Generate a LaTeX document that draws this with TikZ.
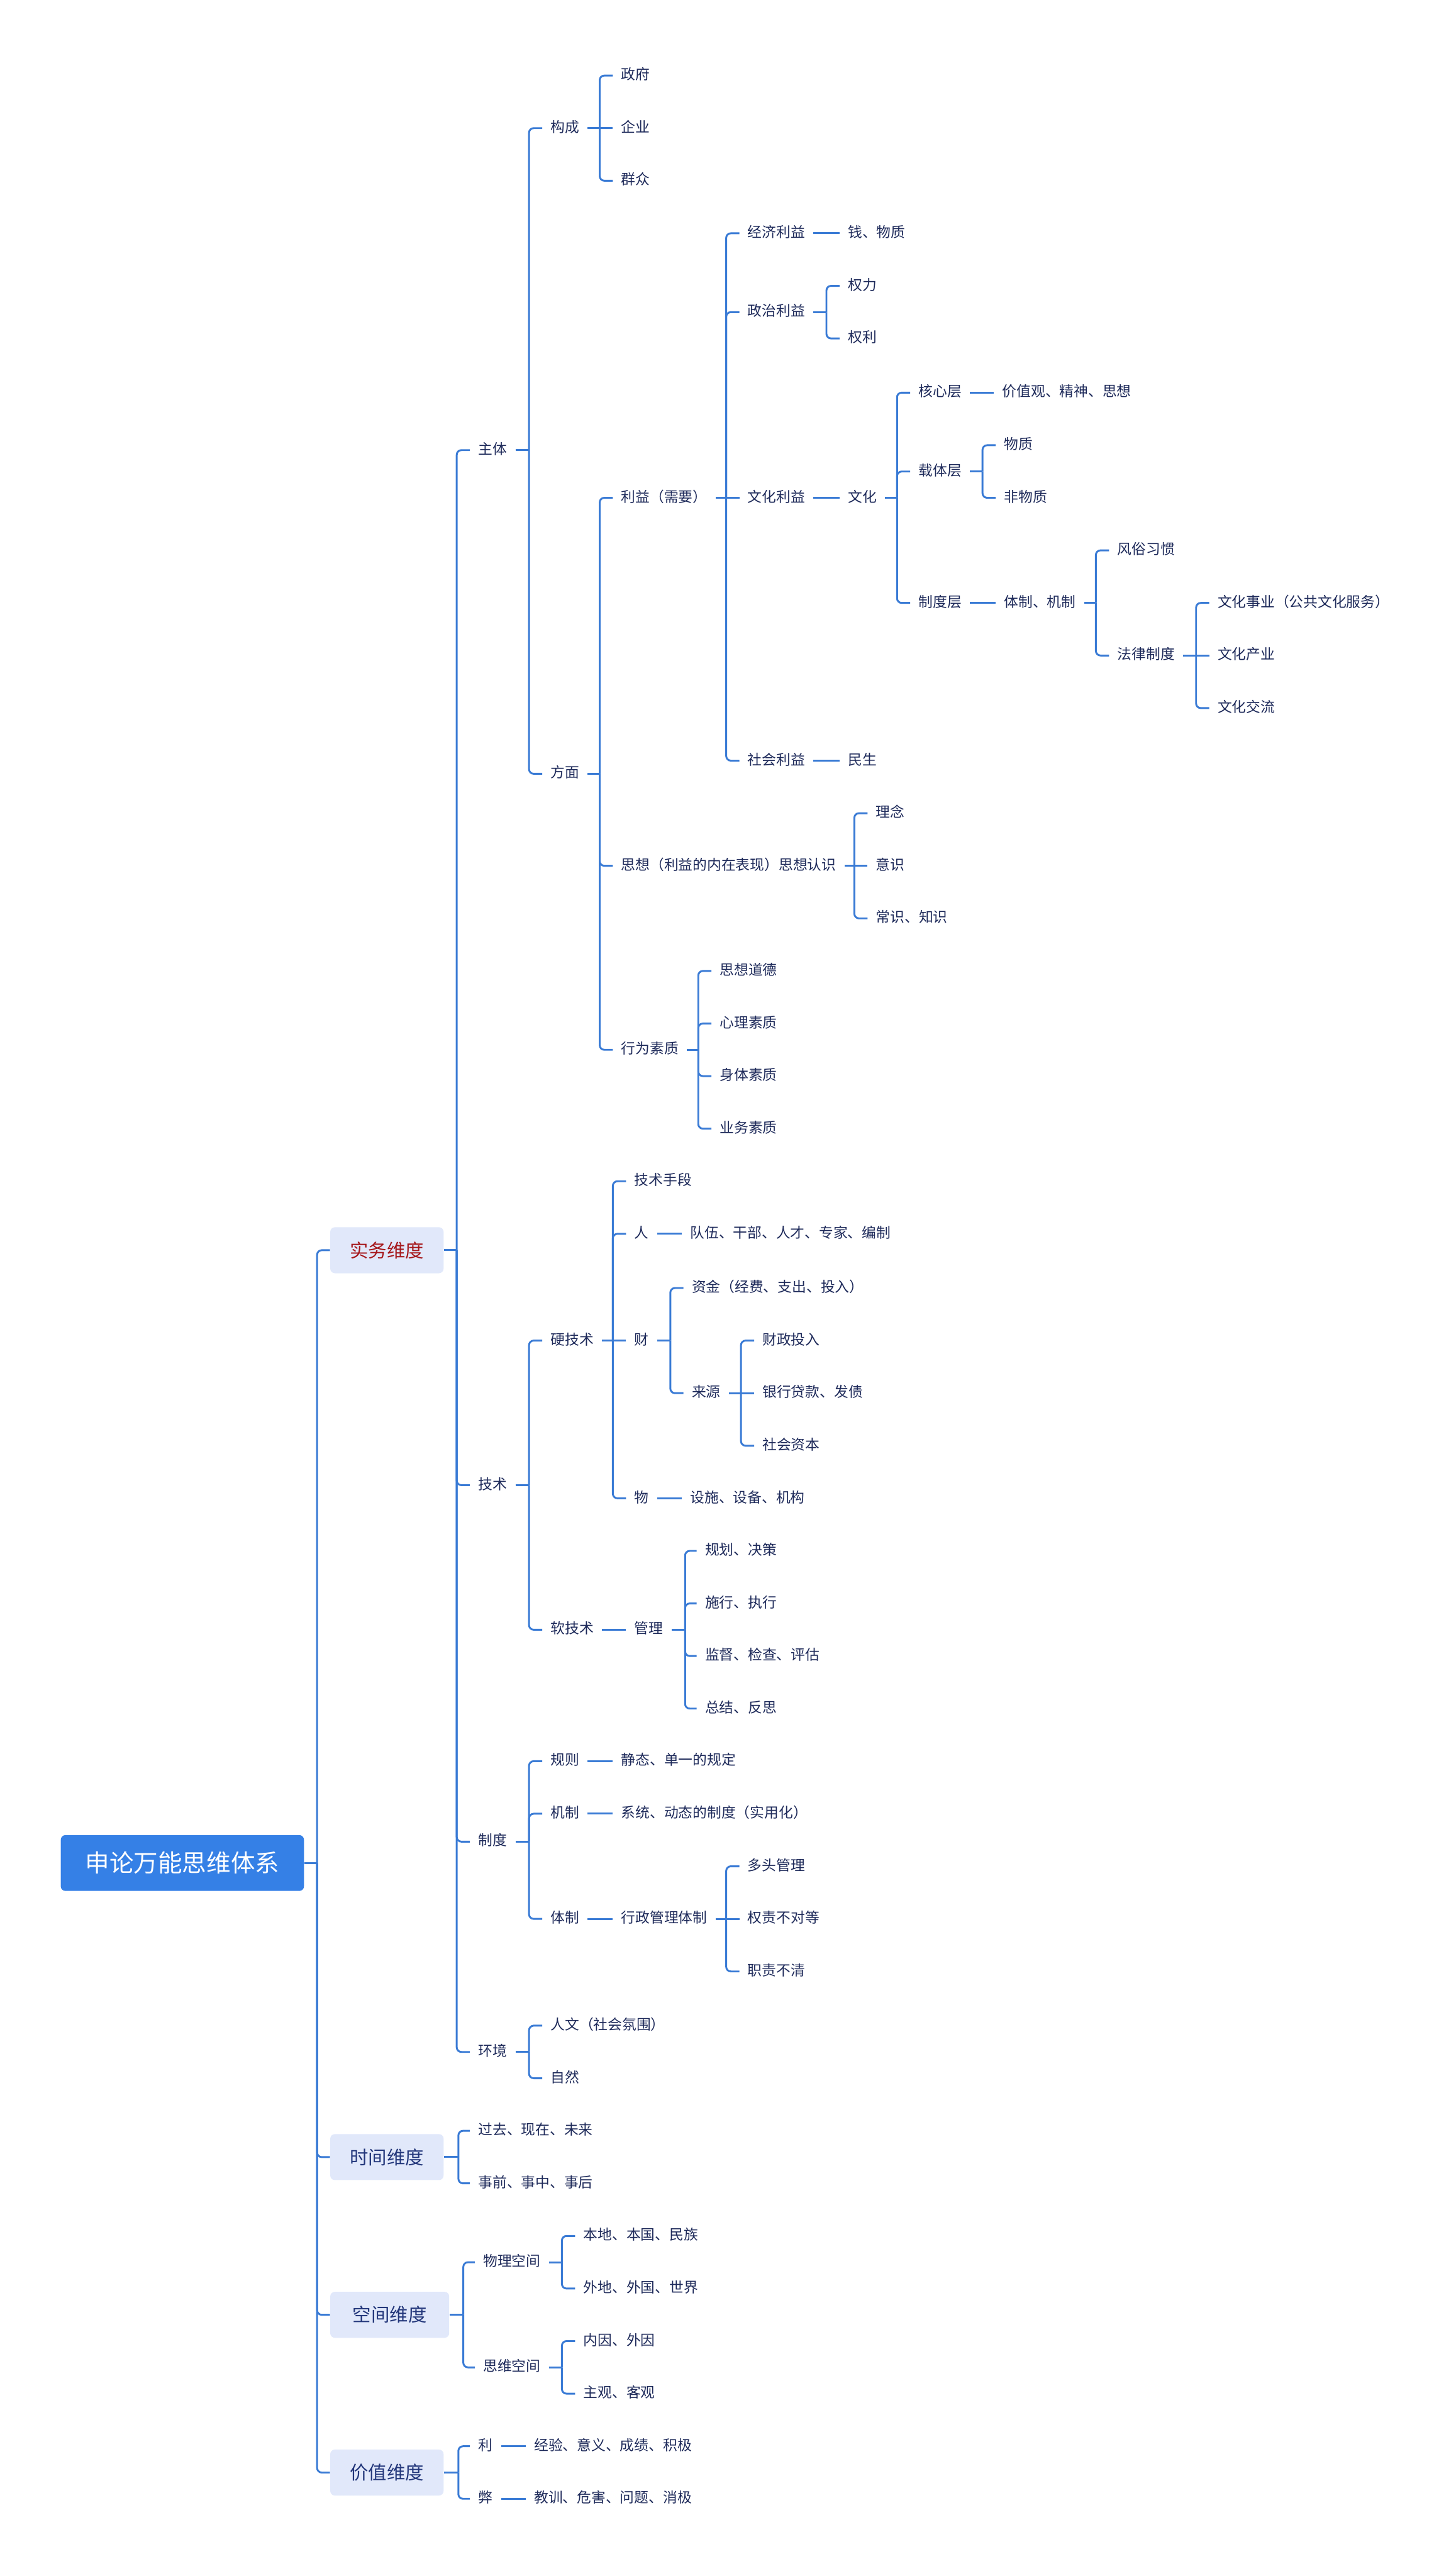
\documentclass[tikz,border=0pt]{standalone}
\usepackage{fontspec}
\setmainfont{Noto Sans CJK SC}
\definecolor{linkblue}{HTML}{3A7BD5}
\definecolor{inkblue}{HTML}{1E2A5A}
\definecolor{dimink}{HTML}{22367A}
\definecolor{rootblue}{HTML}{3580E6}
\definecolor{dimfill}{HTML}{E1E8FA}
\definecolor{dimred}{HTML}{A5161A}
\tikzset{
  leaf/.style={anchor=west, inner xsep=0.25cm, inner ysep=0pt, text=inkblue,
    font=\fontsize{12.4}{15}\selectfont, text height=0.86em, text depth=0.14em},
  rootbox/.style={fill=rootblue, rounded corners=4pt, text=white, inner sep=0pt,
    minimum width=7.4cm, minimum height=1.7cm, font=\fontsize{21}{25}\selectfont},
  dimbox/.style={fill=dimfill, rounded corners=4pt, text=dimink, inner sep=0pt,
    minimum width=3.45cm, minimum height=1.4cm, font=\fontsize{16}{19}\selectfont},
  link/.style={draw=linkblue, line width=1.6pt, rounded corners=4pt},
}
\begin{document}
\begin{tikzpicture}[x=0.05cm, y=-0.05cm]
  \useasboundingbox (0,0) rectangle (886,1568);
  % root and dimensions
  \node[rootbox] (root) at (111,1134) {申论万能思维体系};
  \node[dimbox, text=dimred] (shiwu) at (235.5,761) {实务维度};
  \node[dimbox] (shijian) at (235.5,1313) {时间维度};
  \node[dimbox, minimum width=3.62cm] (kongjian) at (237.2,1409) {空间维度};
  \node[dimbox] (jiazhi) at (235.5,1505) {价值维度};
  %
  \node[leaf] (zhuti) at (286,274) {主体};
  \node[leaf] (jishu) at (286,904) {技术};
  \node[leaf] (zhidu) at (286,1121) {制度};
  \node[leaf] (huanjing) at (286,1249) {环境};
  %
  \node[leaf] (goucheng) at (330,78) {构成};
  \node[leaf] (fangmian) at (330,471) {方面};
  \node[leaf] (zhengfu) at (373,46) {政府};
  \node[leaf] (qiye) at (373,78) {企业};
  \node[leaf] (qunzhong) at (373,110) {群众};
  %
  \node[leaf] (liyi) at (373,303) {利益（需要）};
  \node[leaf] (sixiang) at (373,527) {思想（利益的内在表现）思想认识};
  \node[leaf] (xingwei) at (373,639) {行为素质};
  \node[leaf] (jingji) at (450,142) {经济利益};
  \node[leaf] (qianwu) at (511,142) {钱、物质};
  \node[leaf] (zhengzhi) at (450,190) {政治利益};
  \node[leaf] (quanli) at (511,174) {权力};
  \node[leaf] (quanlii) at (511,206) {权利};
  \node[leaf] (wenhuayi) at (450,303) {文化利益};
  \node[leaf] (wenhua) at (511,303) {文化};
  \node[leaf] (shehui) at (450,463) {社会利益};
  \node[leaf] (minsheng) at (511,463) {民生};
  %
  \node[leaf] (hexin) at (554,239) {核心层};
  \node[leaf] (jiazhiguan) at (605,239) {价值观、精神、思想};
  \node[leaf] (zaiti) at (554,287) {载体层};
  \node[leaf] (wuzhi) at (606,271) {物质};
  \node[leaf] (feiwuzhi) at (606,303) {非物质};
  \node[leaf] (zhiduceng) at (554,367) {制度层};
  \node[leaf] (tizhijizhi) at (606,367) {体制、机制};
  \node[leaf] (fengsu) at (675,335) {风俗习惯};
  \node[leaf] (falv) at (675,399) {法律制度};
  \node[leaf] (shiye) at (736,367) {文化事业（公共文化服务）};
  \node[leaf] (chanye) at (736,399) {文化产业};
  \node[leaf] (jiaoliu) at (736,431) {文化交流};
  %
  \node[leaf] (linian) at (528,495) {理念};
  \node[leaf] (yishi) at (528,527) {意识};
  \node[leaf] (changshi) at (528,559) {常识、知识};
  \node[leaf] (daode) at (433,591) {思想道德};
  \node[leaf] (xinli) at (433,623) {心理素质};
  \node[leaf] (shenti) at (433,655) {身体素质};
  \node[leaf] (yewu) at (433,687) {业务素质};
  %
  \node[leaf] (ying) at (330,816) {硬技术};
  \node[leaf] (ruan) at (330,992) {软技术};
  \node[leaf] (shouduan) at (381,719) {技术手段};
  \node[leaf] (ren) at (381,751) {人};
  \node[leaf] (duiwu) at (415,751) {队伍、干部、人才、专家、编制};
  \node[leaf] (cai) at (381,816) {财};
  \node[leaf] (zijin) at (416,784) {资金（经费、支出、投入）};
  \node[leaf] (laiyuan) at (416,848) {来源};
  \node[leaf] (caizheng) at (459,816) {财政投入};
  \node[leaf] (yinhang) at (459,848) {银行贷款、发债};
  \node[leaf] (ziben) at (459,880) {社会资本};
  \node[leaf] (wu) at (381,912) {物};
  \node[leaf] (sheshi) at (415,912) {设施、设备、机构};
  \node[leaf] (guanli) at (381,992) {管理};
  \node[leaf] (guihua) at (424,944) {规划、决策};
  \node[leaf] (shixing) at (424,976) {施行、执行};
  \node[leaf] (jiandu) at (424,1008) {监督、检查、评估};
  \node[leaf] (zongjie) at (424,1040) {总结、反思};
  %
  \node[leaf] (guize) at (330,1072) {规则};
  \node[leaf] (jingtai) at (373,1072) {静态、单一的规定};
  \node[leaf] (jizhi) at (330,1104) {机制};
  \node[leaf] (xitong) at (373,1104) {系统、动态的制度（实用化）};
  \node[leaf] (tizhi) at (330,1168) {体制};
  \node[leaf] (xingzheng) at (373,1168) {行政管理体制};
  \node[leaf] (duotou) at (450,1136) {多头管理};
  \node[leaf] (quanze) at (450,1168) {权责不对等};
  \node[leaf] (zhize) at (450,1200) {职责不清};
  \node[leaf] (renwen) at (330,1233) {人文（社会氛围）};
  \node[leaf] (ziran) at (330,1265) {自然};
  %
  \node[leaf] (guoqu) at (286,1297) {过去、现在、未来};
  \node[leaf] (shiqian) at (286,1329) {事前、事中、事后};
  \node[leaf] (wuli) at (289,1377) {物理空间};
  \node[leaf] (siwei) at (289,1441) {思维空间};
  \node[leaf] (bendi) at (350,1361) {本地、本国、民族};
  \node[leaf] (waidi) at (350,1393) {外地、外国、世界};
  \node[leaf] (neiyin) at (350,1425) {内因、外因};
  \node[leaf] (zhuguan) at (350,1457) {主观、客观};
  \node[leaf] (li) at (286,1489) {利};
  \node[leaf] (bi) at (286,1521) {弊};
  \node[leaf] (jingyan) at (320,1489) {经验、意义、成绩、积极};
  \node[leaf] (jiaoxun) at (320,1521) {教训、危害、问题、消极};
  % spines
  \coordinate (root-s) at (193,1134);
  \coordinate (shiwu-s) at (278,761);
  \coordinate (shijian-s) at (279,1313);
  \coordinate (kongjian-s) at (282,1409);
  \coordinate (jiazhi-s) at (279,1505);
  \coordinate (zhuti-s) at (322,274);
  \coordinate (goucheng-s) at (365,78);
  \coordinate (fangmian-s) at (365,471);
  \coordinate (liyi-s) at (442,303);
  \coordinate (zhengzhi-s) at (503,190);
  \coordinate (wenhua-s) at (546,303);
  \coordinate (zaiti-s) at (598,287);
  \coordinate (tizhijizhi-s) at (667,367);
  \coordinate (falv-s) at (728,399);
  \coordinate (sixiang-s) at (520,527);
  \coordinate (xingwei-s) at (425,639);
  \coordinate (jishu-s) at (322,904);
  \coordinate (ying-s) at (373,816);
  \coordinate (cai-s) at (408,816);
  \coordinate (laiyuan-s) at (451,848);
  \coordinate (guanli-s) at (417,992);
  \coordinate (zhidu-s) at (322,1121);
  \coordinate (xingzheng-s) at (442,1168);
  \coordinate (huanjing-s) at (322,1249);
  \coordinate (wuli-s) at (342,1377);
  \coordinate (siwei-s) at (342,1441);
  % root
  \draw[link] (root) -- (root-s);
  \foreach \c in {shiwu,shijian,kongjian,jiazhi} \draw[link] (root-s) |- (\c.west);
  % shiwu
  \draw[link] (shiwu) -- (shiwu-s);
  \foreach \c in {zhuti,jishu,zhidu,huanjing} \draw[link] (shiwu-s) |- (\c.west);
  %
  \draw[link] (zhuti) -- (zhuti-s);
  \foreach \c in {goucheng,fangmian} \draw[link] (zhuti-s) |- (\c.west);
  \draw[link] (goucheng) -- (qiye);
  \foreach \c in {zhengfu,qunzhong} \draw[link] (goucheng-s) |- (\c.west);
  \draw[link] (fangmian) -- (fangmian-s);
  \foreach \c in {liyi,sixiang,xingwei} \draw[link] (fangmian-s) |- (\c.west);
  %
  \draw[link] (liyi) -- (wenhuayi);
  \foreach \c in {jingji,zhengzhi,shehui} \draw[link] (liyi-s) |- (\c.west);
  \draw[link] (jingji) -- (qianwu);
  \draw[link] (zhengzhi) -- (zhengzhi-s);
  \foreach \c in {quanli,quanlii} \draw[link] (zhengzhi-s) |- (\c.west);
  \draw[link] (wenhuayi) -- (wenhua);
  \draw[link] (shehui) -- (minsheng);
  %
  \draw[link] (wenhua) -- (wenhua-s);
  \foreach \c in {hexin,zaiti,zhiduceng} \draw[link] (wenhua-s) |- (\c.west);
  \draw[link] (hexin) -- (jiazhiguan);
  \draw[link] (zaiti) -- (zaiti-s);
  \foreach \c in {wuzhi,feiwuzhi} \draw[link] (zaiti-s) |- (\c.west);
  \draw[link] (zhiduceng) -- (tizhijizhi);
  \draw[link] (tizhijizhi) -- (tizhijizhi-s);
  \foreach \c in {fengsu,falv} \draw[link] (tizhijizhi-s) |- (\c.west);
  \draw[link] (falv) -- (chanye);
  \foreach \c in {shiye,jiaoliu} \draw[link] (falv-s) |- (\c.west);
  %
  \draw[link] (sixiang) -- (yishi);
  \foreach \c in {linian,changshi} \draw[link] (sixiang-s) |- (\c.west);
  \draw[link] (xingwei) -- (xingwei-s);
  \foreach \c in {daode,xinli,shenti,yewu} \draw[link] (xingwei-s) |- (\c.west);
  %
  \draw[link] (jishu) -- (jishu-s);
  \foreach \c in {ying,ruan} \draw[link] (jishu-s) |- (\c.west);
  \draw[link] (ying) -- (cai);
  \foreach \c in {shouduan,ren,wu} \draw[link] (ying-s) |- (\c.west);
  \draw[link] (ren) -- (duiwu);
  \draw[link] (cai) -- (cai-s);
  \foreach \c in {zijin,laiyuan} \draw[link] (cai-s) |- (\c.west);
  \draw[link] (laiyuan) -- (yinhang);
  \foreach \c in {caizheng,ziben} \draw[link] (laiyuan-s) |- (\c.west);
  \draw[link] (wu) -- (sheshi);
  \draw[link] (ruan) -- (guanli);
  \draw[link] (guanli) -- (guanli-s);
  \foreach \c in {guihua,shixing,jiandu,zongjie} \draw[link] (guanli-s) |- (\c.west);
  %
  \draw[link] (zhidu) -- (zhidu-s);
  \foreach \c in {guize,jizhi,tizhi} \draw[link] (zhidu-s) |- (\c.west);
  \draw[link] (guize) -- (jingtai);
  \draw[link] (jizhi) -- (xitong);
  \draw[link] (tizhi) -- (xingzheng);
  \draw[link] (xingzheng) -- (quanze);
  \foreach \c in {duotou,zhize} \draw[link] (xingzheng-s) |- (\c.west);
  \draw[link] (huanjing) -- (huanjing-s);
  \foreach \c in {renwen,ziran} \draw[link] (huanjing-s) |- (\c.west);
  % shijian, kongjian, jiazhi
  \draw[link] (shijian) -- (shijian-s);
  \foreach \c in {guoqu,shiqian} \draw[link] (shijian-s) |- (\c.west);
  \draw[link] (kongjian) -- (kongjian-s);
  \foreach \c in {wuli,siwei} \draw[link] (kongjian-s) |- (\c.west);
  \draw[link] (wuli) -- (wuli-s);
  \foreach \c in {bendi,waidi} \draw[link] (wuli-s) |- (\c.west);
  \draw[link] (siwei) -- (siwei-s);
  \foreach \c in {neiyin,zhuguan} \draw[link] (siwei-s) |- (\c.west);
  \draw[link] (jiazhi) -- (jiazhi-s);
  \foreach \c in {li,bi} \draw[link] (jiazhi-s) |- (\c.west);
  \draw[link] (li) -- (jingyan);
  \draw[link] (bi) -- (jiaoxun);
\end{tikzpicture}
\end{document}
